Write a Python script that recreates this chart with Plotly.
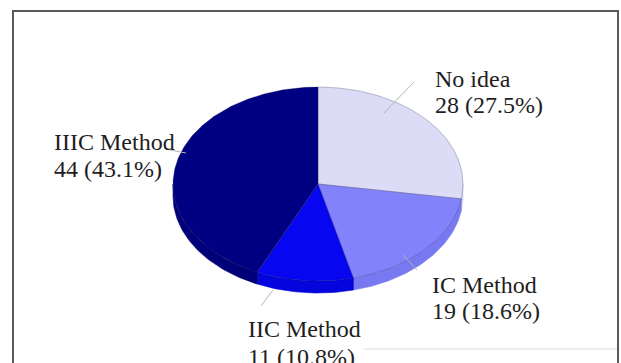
import numpy as np
import plotly.graph_objects as go

# Survey answers: which method is preferred
categories = ["No idea", "IC Method", "IIC Method", "IIIC Method"]
counts = [28, 19, 11, 44]
percents = [27.5, 18.6, 10.8, 43.1]

top_colors = ["#DCDCF7", "#8282FA", "#0606F0", "#000082"]
side_colors = ["#CBCBEE", "#7878F0", "#0404DC", "#000078"]

W, H = 621, 363
cx, cy = 318, 184          # centre of the pie's top face
rx, ry = 145, 97           # ellipse radii of the top face
depth = 12                 # thickness of the 3-D disc

total = sum(counts)
bounds = np.concatenate([[0.0], np.cumsum(counts) / total * 360.0])


def ellipse_pts(a0, a1, dy=0.0):
    t = np.radians(np.linspace(a0, a1, max(int(abs(a1 - a0)) + 2, 3)))
    return cx + rx * np.sin(t), cy - ry * np.cos(t) + dy


fig = go.Figure()
edge = dict(color="rgba(30,30,70,0.45)", width=0.6)

# side walls: only the front half of the disc (90..270 deg) is visible
for i in range(len(counts)):
    a0, a1 = max(bounds[i], 90.0), min(bounds[i + 1], 270.0)
    if a1 <= a0:
        continue
    xt, yt = ellipse_pts(a0, a1)
    xb, yb = ellipse_pts(a1, a0, dy=depth)
    fig.add_trace(go.Scatter(
        x=np.concatenate([xt, xb, xt[:1]]), y=np.concatenate([yt, yb, yt[:1]]),
        mode="lines", fill="toself", fillcolor=side_colors[i],
        line=dict(color=side_colors[i], width=0.6),
        hoverinfo="skip", showlegend=False))

# top faces
for i, name in enumerate(categories):
    xs, ys = ellipse_pts(bounds[i], bounds[i + 1])
    fig.add_trace(go.Scatter(
        x=np.concatenate([[cx], xs, [cx]]), y=np.concatenate([[cy], ys, [cy]]),
        mode="lines", fill="toself", fillcolor=top_colors[i], line=edge,
        name=name, hoverinfo="name", showlegend=False))

# data labels: (left edge, centre of first line, centre of second line)
label_pos = {
    "No idea": (433, 79, 105),
    "IC Method": (430, 285, 311),
    "IIC Method": (246, 329, 357),
    "IIIC Method": (52, 142, 169),
}
label_font = dict(family="Liberation Serif, Times New Roman, serif", size=24, color="#1e1e1e")
for name, n, p in zip(categories, counts, percents):
    lx, y1, y2 = label_pos[name]
    for txt, ly in ((name, y1), (f"{n} ({p:.1f}%)", y2)):
        fig.add_annotation(
            x=lx, y=ly, xref="x", yref="y", xanchor="left", yanchor="middle",
            text=txt, align="left", showarrow=False, font=label_font)

# leader lines
leaders = [
    (384, 113, 414, 82),
    (403, 255, 417, 270),
    (273, 290, 261, 306),
    (170, 150, 186, 153),
]
for x0, y0, x1, y1 in leaders:
    fig.add_shape(type="line", x0=x0, y0=y0, x1=x1, y1=y1, xref="x", yref="y",
                  line=dict(color="#b4b4b4", width=1))

# chart frame
fig.add_shape(type="rect", x0=13, y0=11, x1=618, y1=372, xref="x", yref="y",
              line=dict(color="#5a5a5a", width=2), layer="below")
fig.add_shape(type="line", x0=364, y0=349, x1=617, y1=349, xref="x", yref="y",
              line=dict(color="#dadada", width=1), layer="below")

fig.update_layout(
    width=W, height=H,
    margin=dict(l=0, r=0, t=0, b=0),
    paper_bgcolor="white", plot_bgcolor="white",
    xaxis=dict(range=[0, W], visible=False, fixedrange=True),
    yaxis=dict(range=[H, 0], visible=False, fixedrange=True),
)

fig.write_html("out.html")
